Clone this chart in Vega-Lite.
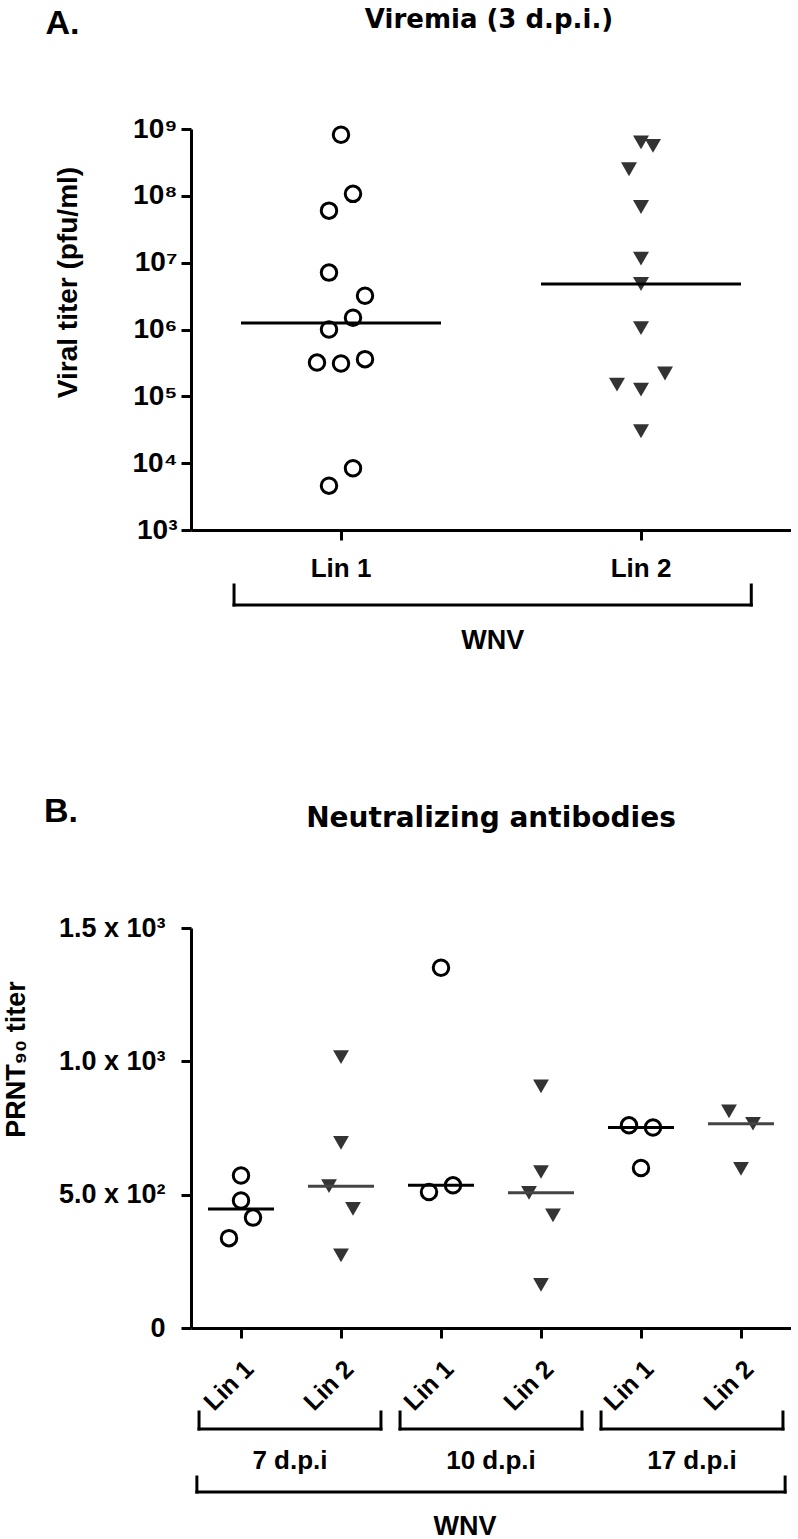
{
  "$schema": "https://vega.github.io/schema/vega-lite/v6.json",
  "padding": {"left": 2, "top": 7, "right": 0, "bottom": 0},
  "background": "white",
  "config": {
    "view": {"stroke": null},
    "font": "Liberation Sans",
    "axis": {
      "domainColor": "black", "domainWidth": 3, "tickColor": "black", "tickWidth": 3, "tickSize": 10,
      "labelColor": "black", "labelFont": "Liberation Sans", "labelFontWeight": "bold",
      "titleFont": "Liberation Sans", "titleFontWeight": "bold", "titleColor": "black", "grid": false
    }
  },
  "datasets": {
    "viremia": [
      {"lineage": "Lin 1", "titer": 820000000, "dodge": 0},
      {"lineage": "Lin 1", "titer": 107000000, "dodge": 1},
      {"lineage": "Lin 1", "titer": 60000000, "dodge": -1},
      {"lineage": "Lin 1", "titer": 7100000, "dodge": -1},
      {"lineage": "Lin 1", "titer": 3200000, "dodge": 2},
      {"lineage": "Lin 1", "titer": 1500000, "dodge": 1},
      {"lineage": "Lin 1", "titer": 1000000, "dodge": -1},
      {"lineage": "Lin 1", "titer": 320000, "dodge": -2},
      {"lineage": "Lin 1", "titer": 310000, "dodge": 0},
      {"lineage": "Lin 1", "titer": 360000, "dodge": 2},
      {"lineage": "Lin 1", "titer": 8400, "dodge": 1},
      {"lineage": "Lin 1", "titer": 4600, "dodge": -1},
      {"lineage": "Lin 2", "titer": 630000000, "dodge": 0},
      {"lineage": "Lin 2", "titer": 560000000, "dodge": 1},
      {"lineage": "Lin 2", "titer": 250000000, "dodge": -1},
      {"lineage": "Lin 2", "titer": 68000000, "dodge": 0},
      {"lineage": "Lin 2", "titer": 11500000, "dodge": 0},
      {"lineage": "Lin 2", "titer": 4800000, "dodge": 0},
      {"lineage": "Lin 2", "titer": 1050000, "dodge": 0},
      {"lineage": "Lin 2", "titer": 220000, "dodge": 2},
      {"lineage": "Lin 2", "titer": 150000, "dodge": -2},
      {"lineage": "Lin 2", "titer": 126000, "dodge": 0},
      {"lineage": "Lin 2", "titer": 30000, "dodge": 0}
    ],
    "prnt": [
      {"grp": "7 d.p.i|Lin 1", "lineage": "Lin 1", "titer": 572, "dodge": 0},
      {"grp": "7 d.p.i|Lin 1", "lineage": "Lin 1", "titer": 478, "dodge": 0},
      {"grp": "7 d.p.i|Lin 1", "lineage": "Lin 1", "titer": 414, "dodge": 1},
      {"grp": "7 d.p.i|Lin 1", "lineage": "Lin 1", "titer": 337, "dodge": -1},
      {"grp": "7 d.p.i|Lin 2", "lineage": "Lin 2", "titer": 1016, "dodge": 0},
      {"grp": "7 d.p.i|Lin 2", "lineage": "Lin 2", "titer": 694, "dodge": 0},
      {"grp": "7 d.p.i|Lin 2", "lineage": "Lin 2", "titer": 532, "dodge": -1},
      {"grp": "7 d.p.i|Lin 2", "lineage": "Lin 2", "titer": 447, "dodge": 1},
      {"grp": "7 d.p.i|Lin 2", "lineage": "Lin 2", "titer": 272, "dodge": 0},
      {"grp": "10 d.p.i|Lin 1", "lineage": "Lin 1", "titer": 1351, "dodge": 0},
      {"grp": "10 d.p.i|Lin 1", "lineage": "Lin 1", "titer": 510, "dodge": -1},
      {"grp": "10 d.p.i|Lin 1", "lineage": "Lin 1", "titer": 535, "dodge": 1},
      {"grp": "10 d.p.i|Lin 2", "lineage": "Lin 2", "titer": 906, "dodge": 0},
      {"grp": "10 d.p.i|Lin 2", "lineage": "Lin 2", "titer": 585, "dodge": 0},
      {"grp": "10 d.p.i|Lin 2", "lineage": "Lin 2", "titer": 507, "dodge": -1},
      {"grp": "10 d.p.i|Lin 2", "lineage": "Lin 2", "titer": 422, "dodge": 1},
      {"grp": "10 d.p.i|Lin 2", "lineage": "Lin 2", "titer": 162, "dodge": 0},
      {"grp": "17 d.p.i|Lin 1", "lineage": "Lin 1", "titer": 760, "dodge": -1},
      {"grp": "17 d.p.i|Lin 1", "lineage": "Lin 1", "titer": 752, "dodge": 1},
      {"grp": "17 d.p.i|Lin 1", "lineage": "Lin 1", "titer": 600, "dodge": 0},
      {"grp": "17 d.p.i|Lin 2", "lineage": "Lin 2", "titer": 812, "dodge": -1},
      {"grp": "17 d.p.i|Lin 2", "lineage": "Lin 2", "titer": 766, "dodge": 1},
      {"grp": "17 d.p.i|Lin 2", "lineage": "Lin 2", "titer": 597, "dodge": 0}
    ]
  },
  "title": {"text": "A.", "anchor": "start", "frame": "bounds", "font": "Liberation Sans", "fontSize": 34, "fontWeight": "bold", "color": "black", "offset": 0, "dx": 43, "dy": 34},
  "bounds": "flush",
  "spacing": 0,
  "resolve": {"scale": {"xOffset": "independent", "x": "independent", "y": "independent"}},
  "vconcat": [
    {
      "width": 600,
      "height": 401,
      "title": {"text": "Viremia (3 d.p.i.)", "font": "DejaVu Sans", "fontSize": 26, "fontWeight": "bold", "color": "black", "anchor": "middle", "frame": "group", "offset": 82, "dx": -2},
      "data": {"name": "viremia"},
      "encoding": {
        "x": {"field": "lineage", "type": "nominal",
          "scale": {"domain": ["Lin 1", "Lin 2"], "paddingInner": 0, "paddingOuter": 0},
          "axis": {"title": null, "labelAngle": 0, "labelFontSize": 26, "labelPadding": 15, "labelBaseline": "top"}},
        "y": {"field": "titer", "type": "quantitative",
          "scale": {"type": "log", "domain": [1000, 1000000000], "nice": false},
          "axis": {"values": [1000, 10000, 100000, 1000000, 10000000, 100000000, 1000000000],
            "labelExpr": "'10' + ['⁰','¹','²','³','⁴','⁵','⁶','⁷','⁸','⁹'][round(log(datum.value)/LN10)]",
            "labelFontSize": 28, "labelPadding": 4,
            "title": "Viral titer (pfu/ml)", "titleFontSize": 28, "titlePadding": 50, "titleY": 153}}
      },
      "layer": [
        {
          "transform": [{"filter": "datum.lineage === 'Lin 1'"}],
          "mark": {"type": "point", "shape": "circle", "filled": false, "stroke": "black", "strokeWidth": 3, "size": 240, "opacity": 1},
          "encoding": {"xOffset": {"field": "dodge", "type": "quantitative", "scale": {"domain": [-12.5, 12.5], "range": [0, 300]}}}
        },
        {
          "transform": [{"filter": "datum.lineage === 'Lin 2'"}],
          "mark": {"type": "point", "shape": "triangle-down", "filled": true, "fill": "#333333", "strokeWidth": 0, "size": 256, "opacity": 1},
          "encoding": {"xOffset": {"field": "dodge", "type": "quantitative", "scale": {"domain": [-12.5, 12.5], "range": [0, 300]}}}
        },
        {
          "mark": {"type": "tick", "size": 200, "thickness": 3, "color": "black", "opacity": 1},
          "encoding": {"y": {"aggregate": "median", "field": "titer", "type": "quantitative"}}
        }
      ]
    },
    {"width": 600, "height": 55, "data": {"values": []}, "mark": "point"},
    {
      "width": 600,
      "height": 20,
      "title": {"text": "B.", "orient": "bottom", "anchor": "start", "frame": "group", "font": "Liberation Sans", "fontSize": 34, "fontWeight": "bold", "color": "black", "offset": 142, "dx": -147},
      "data": {"values": [{"virus": "WNV"}]},
      "layer": [
        {
          "mark": {"type": "rule", "strokeWidth": 3, "color": "black", "strokeCap": "square"},
          "encoding": {
            "x": {"field": "virus", "type": "nominal", "bandPosition": 0,
              "scale": {"paddingInner": 0, "paddingOuter": 0.08, "align": 0.52},
              "axis": {"title": null, "domain": false, "ticks": false, "labelAngle": 0, "labelFontSize": 27, "labelPadding": 22, "labelBaseline": "top"}},
            "y": {"datum": 1, "type": "quantitative", "scale": {"domain": [0, 1]}, "axis": null},
            "y2": {"datum": 0}
          }
        },
        {
          "mark": {"type": "rule", "strokeWidth": 3, "color": "black", "strokeCap": "square"},
          "encoding": {
            "x": {"field": "virus", "type": "nominal", "bandPosition": 1},
            "y": {"datum": 1, "type": "quantitative"},
            "y2": {"datum": 0}
          }
        },
        {
          "mark": {"type": "rule", "strokeWidth": 3, "color": "black", "strokeCap": "square"},
          "encoding": {
            "x": {"field": "virus", "type": "nominal", "bandPosition": 0},
            "x2": {"field": "virus", "bandPosition": 1},
            "y": {"datum": 0, "type": "quantitative"}
          }
        }
      ]
    },
    {"width": 600, "height": 323, "data": {"values": []}, "mark": "point"},
    {
      "width": 600,
      "height": 400,
      "title": {"text": "Neutralizing antibodies", "font": "DejaVu Sans", "fontSize": 28, "fontWeight": "bold", "color": "black", "anchor": "middle", "frame": "group", "offset": 81, "dx": 0},
      "data": {"name": "prnt"},
      "encoding": {
        "x": {"field": "grp", "type": "nominal",
          "scale": {"domain": ["7 d.p.i|Lin 1", "7 d.p.i|Lin 2", "10 d.p.i|Lin 1", "10 d.p.i|Lin 2", "17 d.p.i|Lin 1", "17 d.p.i|Lin 2"], "paddingInner": 0, "paddingOuter": 0},
          "axis": {"title": null, "labelExpr": "split(datum.label, '|')[1]", "labelAngle": -45, "labelFontSize": 25, "labelPadding": 18}},
        "y": {"field": "titer", "type": "quantitative",
          "scale": {"domain": [0, 1500], "nice": false, "zero": true},
          "axis": {"values": [0, 500, 1000, 1500],
            "labelExpr": "datum.value === 0 ? '0' : datum.value === 500 ? '5.0 x 10²' : datum.value === 1000 ? '1.0 x 10³' : '1.5 x 10³'",
            "labelFontSize": 27, "labelPadding": 16,
            "title": "PRNT₉₀ titer", "titleFontSize": 27, "titlePadding": 28, "titleY": 131}}
      },
      "layer": [
        {
          "transform": [{"filter": "datum.lineage === 'Lin 1'"}],
          "mark": {"type": "point", "shape": "circle", "filled": false, "stroke": "black", "strokeWidth": 3, "size": 240, "opacity": 1},
          "encoding": {"xOffset": {"field": "dodge", "type": "quantitative", "scale": {"domain": [-4.1667, 4.1667], "range": [0, 100]}}}
        },
        {
          "transform": [{"filter": "datum.lineage === 'Lin 2'"}],
          "mark": {"type": "point", "shape": "triangle-down", "filled": true, "fill": "#333333", "strokeWidth": 0, "size": 250, "opacity": 1},
          "encoding": {"xOffset": {"field": "dodge", "type": "quantitative", "scale": {"domain": [-4.1667, 4.1667], "range": [0, 100]}}}
        },
        {
          "transform": [{"filter": "datum.lineage === 'Lin 1'"}],
          "mark": {"type": "tick", "size": 66, "thickness": 3, "color": "black", "opacity": 1},
          "encoding": {"y": {"aggregate": "median", "field": "titer", "type": "quantitative"}}
        },
        {
          "transform": [{"filter": "datum.lineage === 'Lin 2'"}],
          "mark": {"type": "tick", "size": 66, "thickness": 3, "color": "#444444", "opacity": 1},
          "encoding": {"y": {"aggregate": "median", "field": "titer", "type": "quantitative"}}
        }
      ]
    },
    {"width": 600, "height": 84, "data": {"values": []}, "mark": "point"},
    {
      "width": 600,
      "height": 17,
      "data": {"values": [{"dpi": "7 d.p.i"}, {"dpi": "10 d.p.i"}, {"dpi": "17 d.p.i"}]},
      "layer": [
        {
          "mark": {"type": "rule", "strokeWidth": 3, "color": "black", "strokeCap": "square"},
          "encoding": {
            "x": {"field": "dpi", "type": "nominal", "sort": null, "bandPosition": 0,
              "scale": {"paddingInner": 0.095, "paddingOuter": 0.04},
              "axis": {"title": null, "domain": false, "ticks": false, "labelAngle": 0, "labelFontSize": 26, "labelPadding": 18, "labelBaseline": "top"}},
            "y": {"datum": 1, "type": "quantitative", "scale": {"domain": [0, 1]}, "axis": null},
            "y2": {"datum": 0}
          }
        },
        {
          "mark": {"type": "rule", "strokeWidth": 3, "color": "black", "strokeCap": "square"},
          "encoding": {
            "x": {"field": "dpi", "type": "nominal", "sort": null, "bandPosition": 1},
            "y": {"datum": 1, "type": "quantitative"},
            "y2": {"datum": 0}
          }
        },
        {
          "mark": {"type": "rule", "strokeWidth": 3, "color": "black", "strokeCap": "square"},
          "encoding": {
            "x": {"field": "dpi", "type": "nominal", "sort": null, "bandPosition": 0},
            "x2": {"field": "dpi", "bandPosition": 1},
            "y": {"datum": 0, "type": "quantitative"}
          }
        }
      ]
    },
    {"width": 600, "height": 48, "data": {"values": []}, "mark": "point"},
    {
      "width": 600,
      "height": 15,
      "data": {"values": [{"virus": "WNV"}]},
      "layer": [
        {
          "mark": {"type": "rule", "strokeWidth": 3, "color": "black", "strokeCap": "square"},
          "encoding": {
            "x": {"field": "virus", "type": "nominal", "bandPosition": 0,
              "scale": {"paddingInner": 0, "paddingOuter": 0.01},
              "axis": {"title": null, "domain": false, "ticks": false, "labelAngle": 0, "labelFontSize": 27, "labelPadding": 21, "labelBaseline": "top", "labelOffset": -26}},
            "y": {"datum": 1, "type": "quantitative", "scale": {"domain": [0, 1]}, "axis": null},
            "y2": {"datum": 0}
          }
        },
        {
          "mark": {"type": "rule", "strokeWidth": 3, "color": "black", "strokeCap": "square"},
          "encoding": {
            "x": {"field": "virus", "type": "nominal", "bandPosition": 1},
            "y": {"datum": 1, "type": "quantitative"},
            "y2": {"datum": 0}
          }
        },
        {
          "mark": {"type": "rule", "strokeWidth": 3, "color": "black", "strokeCap": "square"},
          "encoding": {
            "x": {"field": "virus", "type": "nominal", "bandPosition": 0},
            "x2": {"field": "virus", "bandPosition": 1},
            "y": {"datum": 0, "type": "quantitative"}
          }
        }
      ]
    }
  ]
}
